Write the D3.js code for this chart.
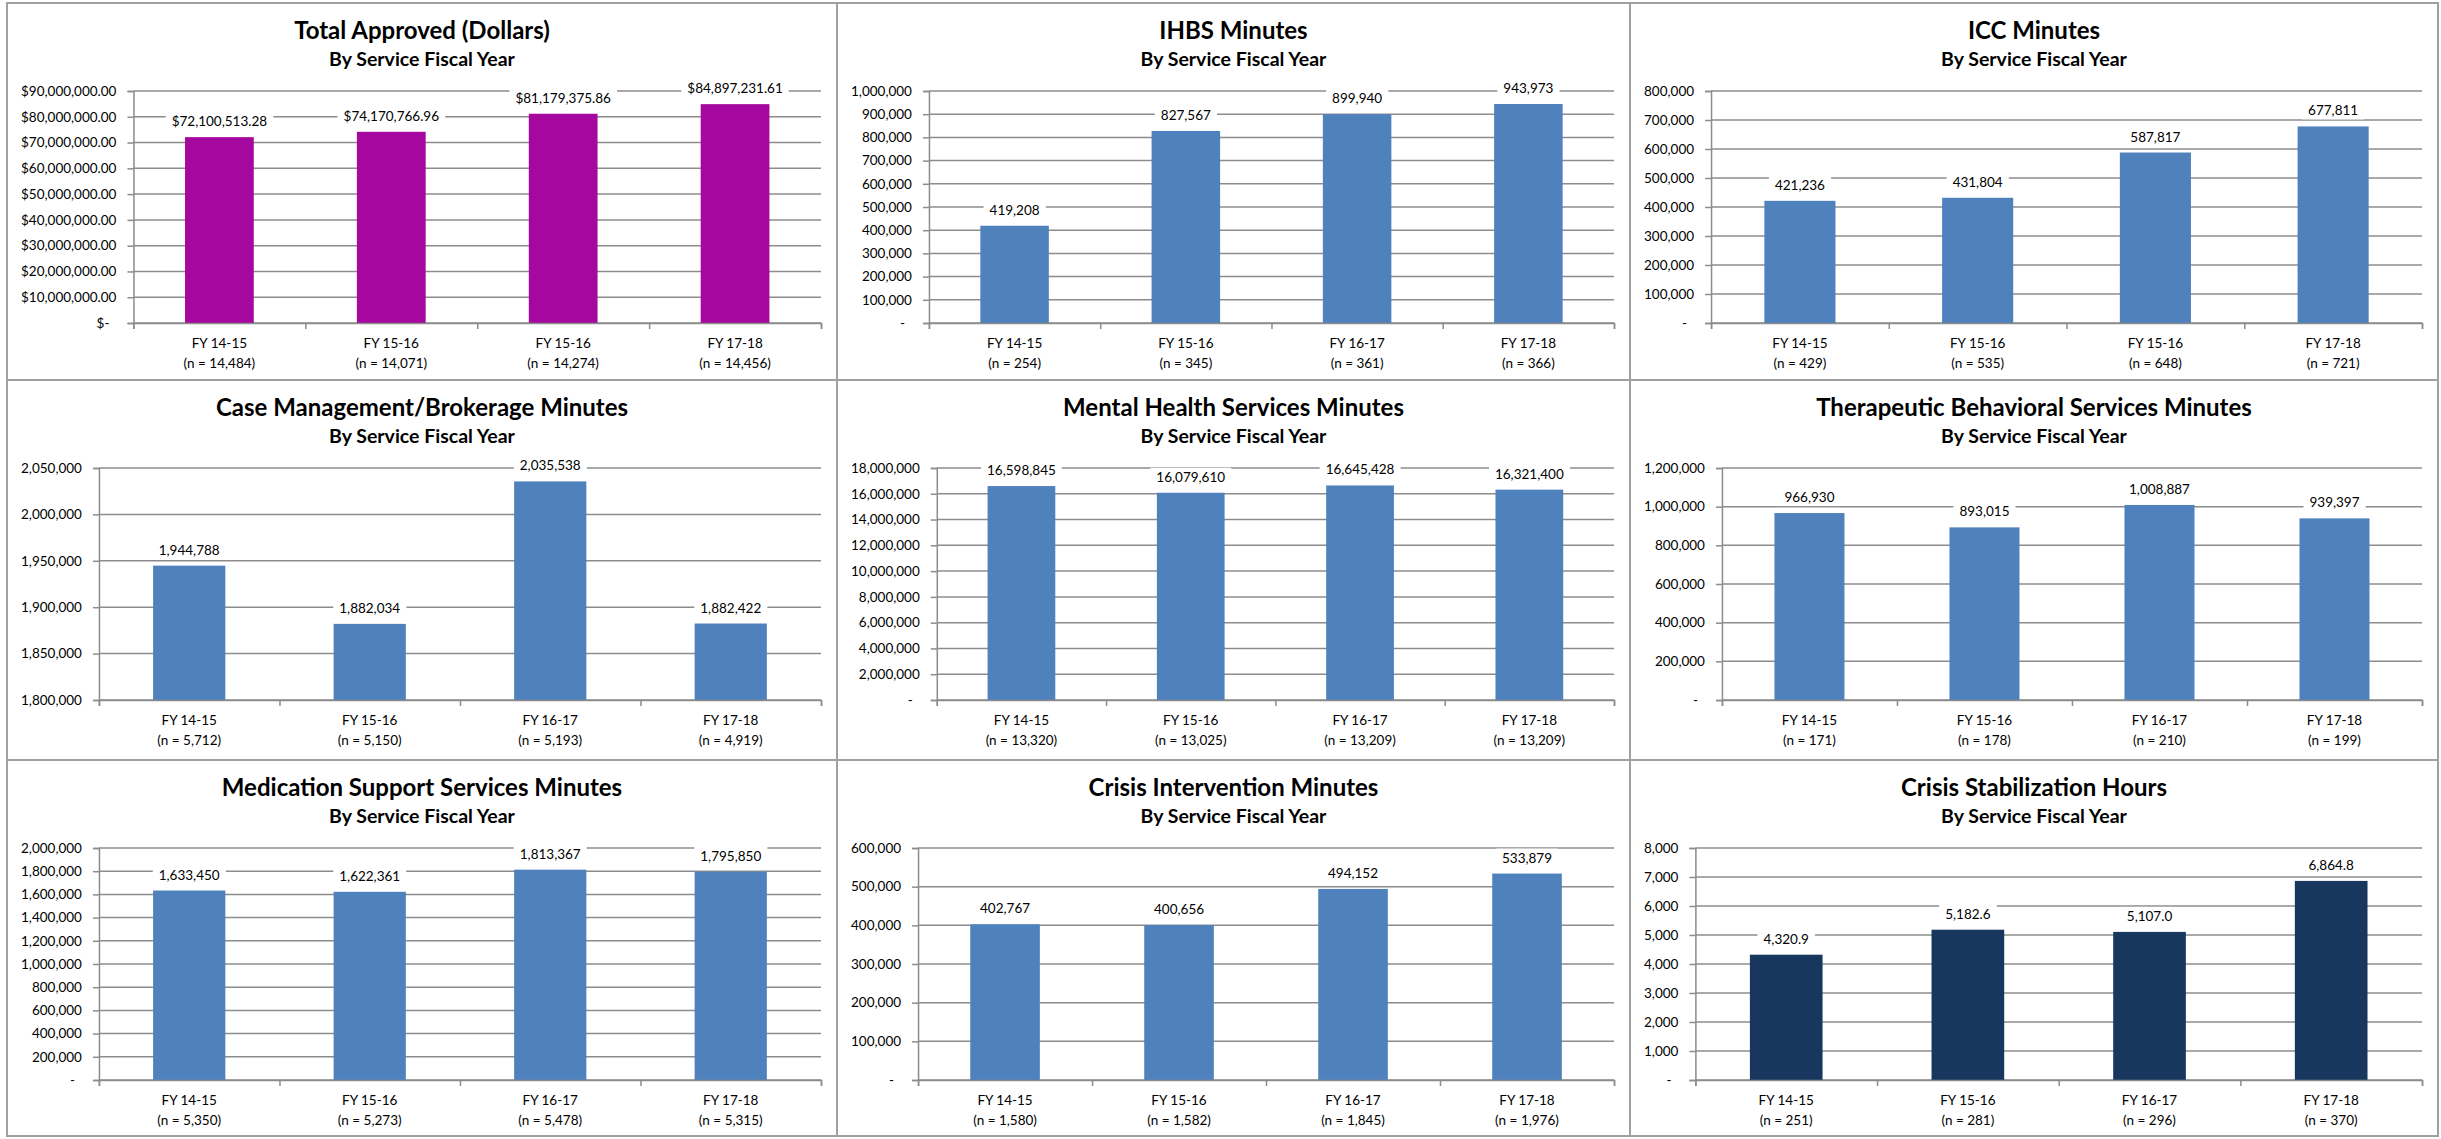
<!DOCTYPE html>
<html><head><meta charset="utf-8">
<script src="https://cdn.jsdelivr.net/npm/d3@7"></script>
<style>
body{margin:0;background:#fff}
svg{display:block}
text{font-family:Lato,"Noto Sans",sans-serif;fill:#000}
</style>
</head><body>
<svg id="c" width="2441" height="1139"></svg>
<script>
// ---------- DATA ----------
const titles = [
  "Total Approved (Dollars)",
  "IHBS Minutes",
  "ICC Minutes",
  "Case Management/Brokerage Minutes",
  "Mental Health Services Minutes",
  "Therapeutic Behavioral Services Minutes",
  "Medication Support Services Minutes",
  "Crisis Intervention Minutes",
  "Crisis Stabilization Hours"
];
const subtitle = "By Service Fiscal Year";

const categoriesA = ["FY 14-15", "FY 15-16", "FY 15-16", "FY 17-18"];
const categoriesB = ["FY 14-15", "FY 15-16", "FY 16-17", "FY 17-18"];
const panelCategories = [categoriesA, categoriesB, categoriesA, categoriesB, categoriesB, categoriesB, categoriesB, categoriesB, categoriesB];

const nCounts = [
  ["14,484", "14,071", "14,274", "14,456"],
  ["254", "345", "361", "366"],
  ["429", "535", "648", "721"],
  ["5,712", "5,150", "5,193", "4,919"],
  ["13,320", "13,025", "13,209", "13,209"],
  ["171", "178", "210", "199"],
  ["5,350", "5,273", "5,478", "5,315"],
  ["1,580", "1,582", "1,845", "1,976"],
  ["251", "281", "296", "370"]
];

const totalApproved   = [72100513.28, 74170766.96, 81179375.86, 84897231.61];
const ihbsMinutes     = [419208, 827567, 899940, 943973];
const iccMinutes      = [421236, 431804, 587817, 677811];
const caseMgmtMinutes = [1944788, 1882034, 2035538, 1882422];
const mhsMinutes      = [16598845, 16079610, 16645428, 16321400];
const tbsMinutes      = [966930, 893015, 1008887, 939397];
const medSupportMinutes = [1633450, 1622361, 1813367, 1795850];
const crisisIntMinutes  = [402767, 400656, 494152, 533879];
const crisisStabHours   = [4320.9, 5182.6, 5107.0, 6864.8];
const panelValues = [totalApproved, ihbsMinutes, iccMinutes, caseMgmtMinutes, mhsMinutes, tbsMinutes, medSupportMinutes, crisisIntMinutes, crisisStabHours];

// y-axis tick ranges: [min, max, step]
const yTicks = [
  [0, 90000000, 10000000],
  [0, 1000000, 100000],
  [0, 800000, 100000],
  [1800000, 2050000, 50000],
  [0, 18000000, 2000000],
  [0, 1200000, 200000],
  [0, 2000000, 200000],
  [0, 600000, 100000],
  [0, 8000, 1000]
];

// ---------- STYLE ----------
const tickFormats  = ["$,.2f", ",", ",", ",", ",", ",", ",", ",", ","];
const labelFormats = ["$,.2f", ",", ",", ",", ",", ",", ",", ",", ",.1f"];
const zeroLabels   = ["$-", "-", "-", "-", "-", "-", "-", "-", "-"];
const barColors = ["#A6089F", "#4F81BD", "#4F81BD", "#4F81BD", "#4F81BD", "#4F81BD", "#4F81BD", "#4F81BD", "#17375E"];

const colX = [7, 837, 1630, 2438];
const rowY = [3, 380, 760, 1136];
const gridColor = "#8c8c8c";
const FS = 13.5;

const svg = d3.select("#c");

titles.forEach((title, i) => {
  const c = i % 3, r = Math.floor(i / 3);
  const x0 = colX[c], x1 = colX[c + 1], y0 = rowY[r], y1 = rowY[r + 1];
  const g = svg.append("g");

  g.append("rect").attr("x", x0).attr("y", y0).attr("width", x1 - x0).attr("height", y1 - y0)
    .attr("fill", "#fff").attr("stroke", "#a0a0a0").attr("stroke-width", 2);

  const cx = (x0 + x1) / 2;
  g.append("text").attr("x", cx).attr("y", y0 + 36).attr("text-anchor", "middle")
    .style("font-weight", "700").style("font-size", "24px").text(title);
  g.append("text").attr("x", cx).attr("y", y0 + 63).attr("text-anchor", "middle")
    .style("font-weight", "700").style("font-size", "19.5px").text(subtitle);

  const [tmin, tmax, tstep] = yTicks[i];
  const ticks = d3.range(tmin, tmax + tstep / 2, tstep);
  const tfmt = d3.format(tickFormats[i]);
  const tickText = v => (v === 0 ? zeroLabels[i] : tfmt(v));

  // measure tick label widths
  const meas = g.append("g");
  let maxW = 0;
  ticks.forEach(v => {
    const t = meas.append("text").style("font-size", FS + "px").text(tickText(v));
    maxW = Math.max(maxW, t.node().getComputedTextLength());
  });
  meas.remove();

  const left = x0 + 14 + maxW + 17;
  const right = x1 - 16;
  const top = y0 + 88, bottom = y0 + 320;

  const y = d3.scaleLinear().domain([tmin, tmax]).range([bottom, top]);
  const x = d3.scaleBand().domain(d3.range(4)).range([left, right]).paddingInner(0.6).paddingOuter(0.3);
  const xb = d3.scaleLinear().domain([0, 4]).range([left, right]);

  // gridlines
  g.append("g").selectAll("line").data(ticks).join("line")
    .attr("x1", left).attr("x2", right)
    .attr("y1", d => y(d)).attr("y2", d => y(d))
    .attr("stroke", gridColor).attr("stroke-width", 1.5);

  // y axis
  const ya = g.append("g").attr("transform", `translate(${left},0)`)
    .call(d3.axisLeft(y).tickValues(ticks).tickSize(6).tickPadding(11).tickFormat(tickText));
  ya.select(".domain").attr("stroke", gridColor).attr("stroke-width", 1.5);
  ya.selectAll(".tick line").attr("stroke", gridColor).attr("stroke-width", 1.5);
  ya.selectAll(".tick text").style("font-size", FS + "px").attr("fill", "#000")
    .style("font-family", "Lato")
    .attr("dx", d => (d === 0 ? -7 : 0));

  // bars
  const vals = panelValues[i];
  g.append("g").selectAll("rect").data(vals).join("rect")
    .attr("x", (d, k) => x(k)).attr("width", x.bandwidth())
    .attr("y", d => y(d)).attr("height", d => y(tmin) - y(d))
    .attr("fill", barColors[i]);

  // x axis
  const xa = g.append("g").attr("transform", `translate(0,${bottom})`)
    .call(d3.axisBottom(xb).tickValues([0, 1, 2, 3, 4]).tickSize(6).tickFormat(""));
  xa.select(".domain").attr("stroke", gridColor).attr("stroke-width", 1.5);
  xa.selectAll(".tick line").attr("stroke", gridColor).attr("stroke-width", 1.5);

  // category labels
  const cats = panelCategories[i];
  const catG = g.append("g").selectAll("g").data(cats).join("g");
  catG.append("text").attr("x", (d, k) => x(k) + x.bandwidth() / 2).attr("y", bottom + 25)
    .attr("text-anchor", "middle").style("font-size", FS + "px").text(d => d);
  catG.append("text").attr("x", (d, k) => x(k) + x.bandwidth() / 2).attr("y", bottom + 45)
    .attr("text-anchor", "middle").style("font-size", FS + "px").text((d, k) => `(n = ${nCounts[i][k]})`);

  // data labels with white background
  const lfmt = d3.format(labelFormats[i]);
  vals.forEach((v, k) => {
    const lg = g.append("g");
    const bg = lg.append("rect").attr("fill", "#fff");
    const t = lg.append("text").attr("x", x(k) + x.bandwidth() / 2).attr("y", y(v) - 11)
      .attr("text-anchor", "middle").style("font-size", FS + "px").text(lfmt(v));
    const bb = t.node().getBBox();
    bg.attr("x", bb.x - 6).attr("y", bb.y - 1).attr("width", bb.width + 12).attr("height", bb.height + 2);
  });
});
</script>
</body></html>
